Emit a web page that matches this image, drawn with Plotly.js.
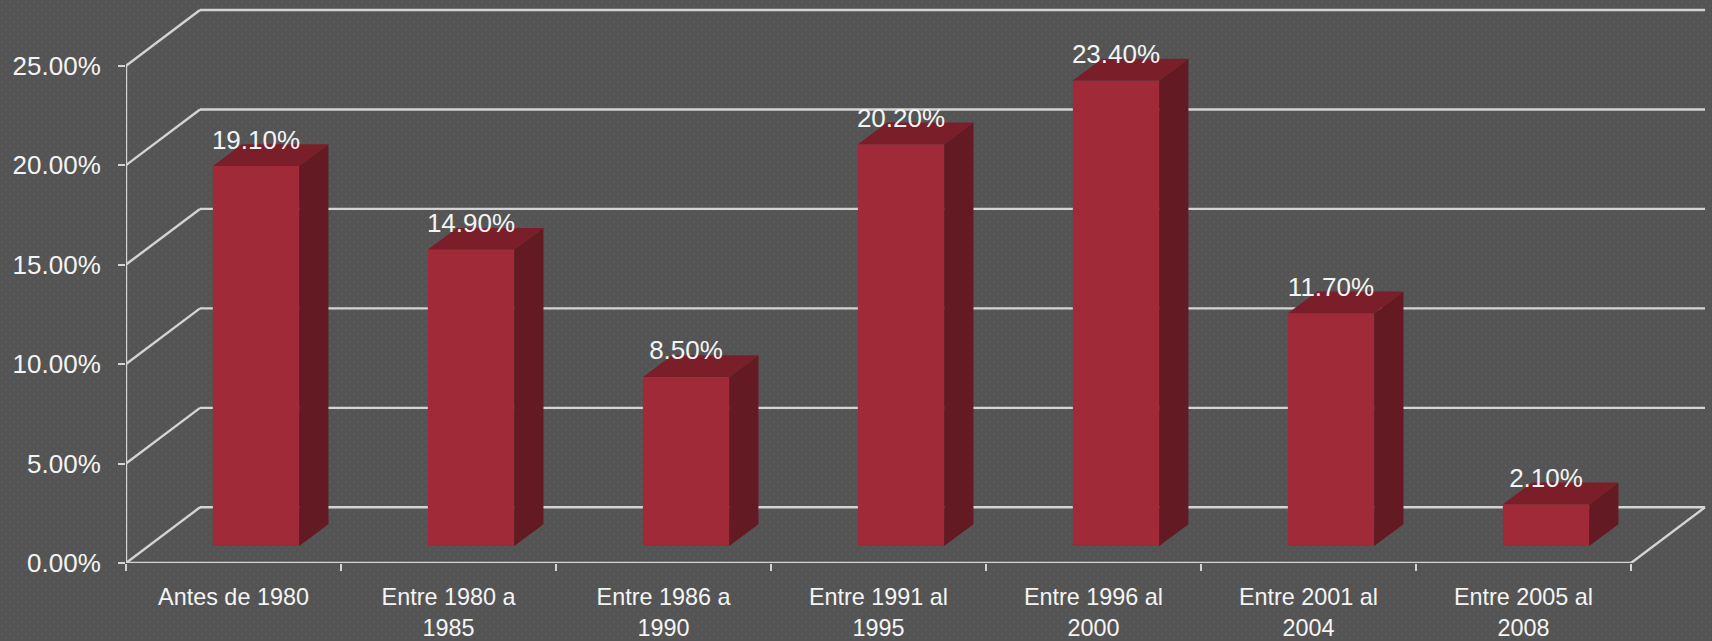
<!DOCTYPE html>
<html>
<head>
<meta charset="utf-8">
<script src="https://cdn.plot.ly/plotly-3.0.1.min.js"></script>
<style>
html,body{margin:0;padding:0;width:1712px;height:641px;overflow:hidden;background-color:#545454;
background-image:radial-gradient(circle at 2px 2px,#5a5a5a 0,#5a5a5a 1.2px,transparent 1.6px),radial-gradient(circle at 6px 6px,#5a5a5a 0,#5a5a5a 1.2px,transparent 1.6px);background-size:8px 8px;}
#chart{width:1712px;height:641px;}
</style>
</head>
<body>
<div id="chart"></div>
<script>
const categories = ["Antes de 1980","Entre 1980 a<br>1985","Entre 1986 a<br>1990","Entre 1991 al<br>1995","Entre 1996 al<br>2000","Entre 2001 al<br>2004","Entre 2005 al<br>2008"];
const values = [19.1,14.9,8.5,20.2,23.4,11.7,2.1];
const valueLabels = ["19.10%","14.90%","8.50%","20.20%","23.40%","11.70%","2.10%"];
const yTicks = [0,5,10,15,20,25];
const yTickLabels = ["0.00%","5.00%","10.00%","15.00%","20.00%","25.00%"];

const positions = categories.map((_,i)=>i);
const boundaries = categories.map((_,i)=>i-0.5).concat([categories.length-0.5]);
const xMax = categories.length-0.5;

// oblique projection, in axis units
const wallDx = 74/215, wallDy = 55.7/19.892;
const planeDx = 22.5/215, planeDy = 17/19.892;
const barDx = 29.3/215, barDy = 21.7/19.892;
const barWidth = 86.3/215;
const labelGap = 24/19.892;

const lineColor = "#d4d4d4";
const textColor = "#f4f4f4";
const frontColor = "#a02a37";
const topColor = "#7a1f29";
const sideColor = "#641a22";
const fontFamily = "Liberation Sans, Arial, sans-serif";

const L = (x0,y0,x1,y1)=>({type:"line",xref:"x",yref:"y",layer:"below",x0,y0,x1,y1,line:{color:lineColor,width:2.4}});
const shapes = [];
yTicks.forEach(t=>{
  shapes.push(L(-0.5,t,-0.5+wallDx,t+wallDy));
  shapes.push(L(-0.5+wallDx,t+wallDy,xMax+wallDx,t+wallDy));
});
shapes.push(L(xMax,0,xMax+wallDx,wallDy));
shapes.push(L(-0.5,0,xMax,0));
shapes.push(L(-0.5,0,-0.5,yTicks[yTicks.length-1]));

const xs = i=>i+planeDx-barWidth/2, xe = i=>i+planeDx+barWidth/2;
const traces = [];
traces.push({type:"bar",x:positions,y:values,base:planeDy,width:barWidth,offset:planeDx-barWidth/2,
  marker:{color:frontColor,line:{width:0}},cliponaxis:false,hoverinfo:"y"});
values.forEach((v,i)=>{
  const top = planeDy+v;
  traces.push({type:"scatter",mode:"lines",fill:"toself",fillcolor:sideColor,line:{width:0},hoverinfo:"skip",
    x:[xe(i),xe(i)+barDx,xe(i)+barDx,xe(i),xe(i)],
    y:[planeDy,planeDy+barDy,top+barDy,top,planeDy]});
  traces.push({type:"scatter",mode:"lines",fill:"toself",fillcolor:topColor,line:{width:0},hoverinfo:"skip",
    x:[xs(i),xs(i)+barDx,xe(i)+barDx,xe(i),xs(i)],
    y:[top,top+barDy,top+barDy,top,top]});
});
traces.push({type:"scatter",mode:"text",x:positions.map(i=>i+planeDx),y:values.map(v=>v+planeDy+labelGap),
  text:valueLabels,textposition:"middle center",textfont:{family:fontFamily,size:26,color:textColor},
  hoverinfo:"skip",cliponaxis:false});

const layout = {
  width:1712,height:641,
  margin:{l:126,r:0,t:0,b:78,pad:0},
  paper_bgcolor:"rgba(0,0,0,0)",plot_bgcolor:"rgba(0,0,0,0)",
  showlegend:false,barmode:"overlay",
  xaxis:{type:"linear",range:[-0.5,-0.5+1586/215],tickmode:"array",tickvals:positions,ticktext:categories,
    ticks:"",showgrid:false,zeroline:false,showline:false,tickangle:0,ticklabelstandoff:18,
    tickfont:{family:fontFamily,size:23.4,color:textColor},
    minor:{tickmode:"array",tickvals:boundaries,ticks:"outside",ticklen:7,tickwidth:2,tickcolor:lineColor,showgrid:false}},
  yaxis:{type:"linear",range:[0,563/19.892],tickmode:"array",tickvals:yTicks,ticktext:yTickLabels,
    ticks:"outside",ticklen:7,tickwidth:2,tickcolor:lineColor,showgrid:false,zeroline:false,showline:false,ticklabelstandoff:12,
    tickfont:{family:fontFamily,size:26,color:textColor}},
  shapes
};
Plotly.newPlot("chart",traces,layout,{displayModeBar:false,staticPlot:true});
</script>
</body>
</html>
